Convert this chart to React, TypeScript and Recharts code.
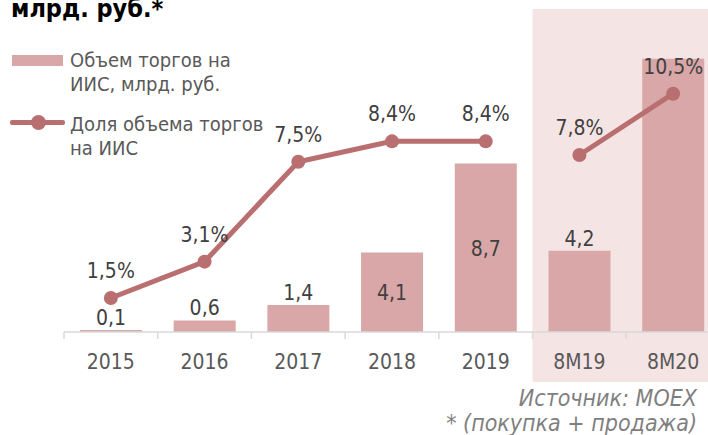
import React from 'react';
import {
  ComposedChart,
  Bar,
  Line,
  XAxis,
  YAxis,
  ReferenceArea,
  LabelList,
} from 'recharts';

// Объем торгов на ИИС, млрд. руб. / доля объема торгов на ИИС, %
const categories = ['2015', '2016', '2017', '2018', '2019', '8M19', '8M20'];
const volume = [0.1, 0.6, 1.4, 4.1, 8.7, 4.2, 14.1];
const share = [1.5, 3.1, 7.5, 8.4, 8.4, 7.8, 10.5];

const FONT = "'DejaVu Sans Condensed', 'DejaVu Sans', sans-serif";
const BAR_COLOR = '#d9a7a7';
const LINE_COLOR = '#b96f6f';
const SHADE = '#f5e4e4';
const LABEL_COLOR = '#404040';

const W = 730;
const H = 435;
const M = { top: 22, right: 10, bottom: 0, left: 64 };
const HALF_BAND = (W - M.left - M.right) / categories.length / 2;

// bar labels that Excel put inside the bar, and the one it dropped
const INSIDE_LABEL = ['2018', '2019'];
const HIDDEN_LABEL = ['8M20'];

const fmt = (v: number) => v.toFixed(1).replace('.', ',');

const rows = categories.map((c, i) => {
  const annual = !c.startsWith('8M');
  return {
    cat: c,
    volume: volume[i],
    shareYear: annual ? share[i] : null,
    shareYtd: annual ? null : share[i],
  };
});

function XTick(props: any) {
  const { x, y, payload } = props;
  return (
    <g>
      <line x1={x - HALF_BAND} x2={x - HALF_BAND} y1={y - 8} y2={y - 1} stroke="#d9d9d9" strokeWidth={1.5} />
      <text x={x} y={y + 29} textAnchor="middle" fontSize={21} fill="#595959" fontFamily={FONT}>
        {payload.value}
      </text>
    </g>
  );
}

function BarLabel(props: any) {
  const { x, y, width, height, value, index } = props;
  const cat = categories[index];
  if (HIDDEN_LABEL.includes(cat)) return null;
  const inside = INSIDE_LABEL.includes(cat);
  const ty = inside ? y + height / 2 + 8 : y - 5;
  return (
    <text x={x + width / 2} y={ty} textAnchor="middle" fontSize={21} fill={LABEL_COLOR} fontFamily={FONT}>
      {fmt(value)}
    </text>
  );
}

function ShareLabel(props: any) {
  const { x, y, value } = props;
  if (value == null) return null;
  return (
    <text x={x} y={y - 20} textAnchor="middle" fontSize={21} fill={LABEL_COLOR} fontFamily={FONT}>
      {fmt(value)}%
    </text>
  );
}

export default function App() {
  return (
    <div
      style={{
        position: 'absolute',
        left: 0,
        top: 0,
        width: 708,
        height: 435,
        overflow: 'hidden',
        background: '#fff',
        fontFamily: FONT,
      }}
    >
      <ComposedChart width={W} height={H} data={rows} margin={M} barCategoryGap="17%">
        <XAxis
          dataKey="cat"
          height={103}
          tickLine={false}
          axisLine={{ stroke: '#d9d9d9', strokeWidth: 1.5 }}
          tick={<XTick />}
          interval={0}
        />
        <YAxis yAxisId="vol" hide domain={[0, 16]} />
        <YAxis yAxisId="pct" hide orientation="right" domain={[0, 13.66]} />
        <ReferenceArea
          yAxisId="vol"
          x1="8M19"
          x2="8M20"
          y1={-2.58}
          y2={16.67}
          fill={SHADE}
          fillOpacity={1}
          stroke="none"
          ifOverflow="visible"
        />
        <Bar yAxisId="vol" dataKey="volume" fill={BAR_COLOR} isAnimationActive={false}>
          <LabelList dataKey="volume" content={<BarLabel />} />
        </Bar>
        <Line
          yAxisId="pct"
          dataKey="shareYear"
          stroke={LINE_COLOR}
          strokeWidth={5}
          dot={{ r: 7, fill: LINE_COLOR, stroke: 'none' }}
          isAnimationActive={false}
          connectNulls={false}
        >
          <LabelList dataKey="shareYear" content={<ShareLabel />} />
        </Line>
        <Line
          yAxisId="pct"
          dataKey="shareYtd"
          stroke={LINE_COLOR}
          strokeWidth={5}
          dot={{ r: 7, fill: LINE_COLOR, stroke: 'none' }}
          isAnimationActive={false}
          connectNulls={false}
        >
          <LabelList dataKey="shareYtd" content={<ShareLabel />} />
        </Line>
      </ComposedChart>

      {/* title, cut at the top in the source */}
      <div style={{ position: 'absolute', left: 11, top: -4, fontSize: 25, lineHeight: '25px', fontWeight: 'bold', color: '#000', whiteSpace: 'nowrap' }}>
        млрд. руб.*
      </div>

      {/* legend */}
      <div style={{ position: 'absolute', left: 12, top: 55, width: 51, height: 11, background: BAR_COLOR }} />
      <div style={{ position: 'absolute', left: 70, top: 48, fontSize: 20, lineHeight: '24px', color: '#595959' }}>
        Объем торгов на
        <br />
        ИИС, млрд. руб.
      </div>
      <div style={{ position: 'absolute', left: 10, top: 120, width: 55, height: 5, borderRadius: 2, background: LINE_COLOR }} />
      <div style={{ position: 'absolute', left: 31, top: 115, width: 15, height: 15, borderRadius: '50%', background: LINE_COLOR }} />
      <div style={{ position: 'absolute', left: 70, top: 112, fontSize: 20, lineHeight: '24px', color: '#595959' }}>
        Доля объема торгов
        <br />
        на ИИС
      </div>

      {/* source */}
      <div
        style={{
          position: 'absolute',
          right: 11,
          top: 386,
          fontSize: 23,
          lineHeight: '25px',
          fontStyle: 'italic',
          color: '#7f7f7f',
          textAlign: 'right',
          whiteSpace: 'nowrap',
        }}
      >
        Источник: MOEX
        <br />* (покупка + продажа)
      </div>
    </div>
  );
}
